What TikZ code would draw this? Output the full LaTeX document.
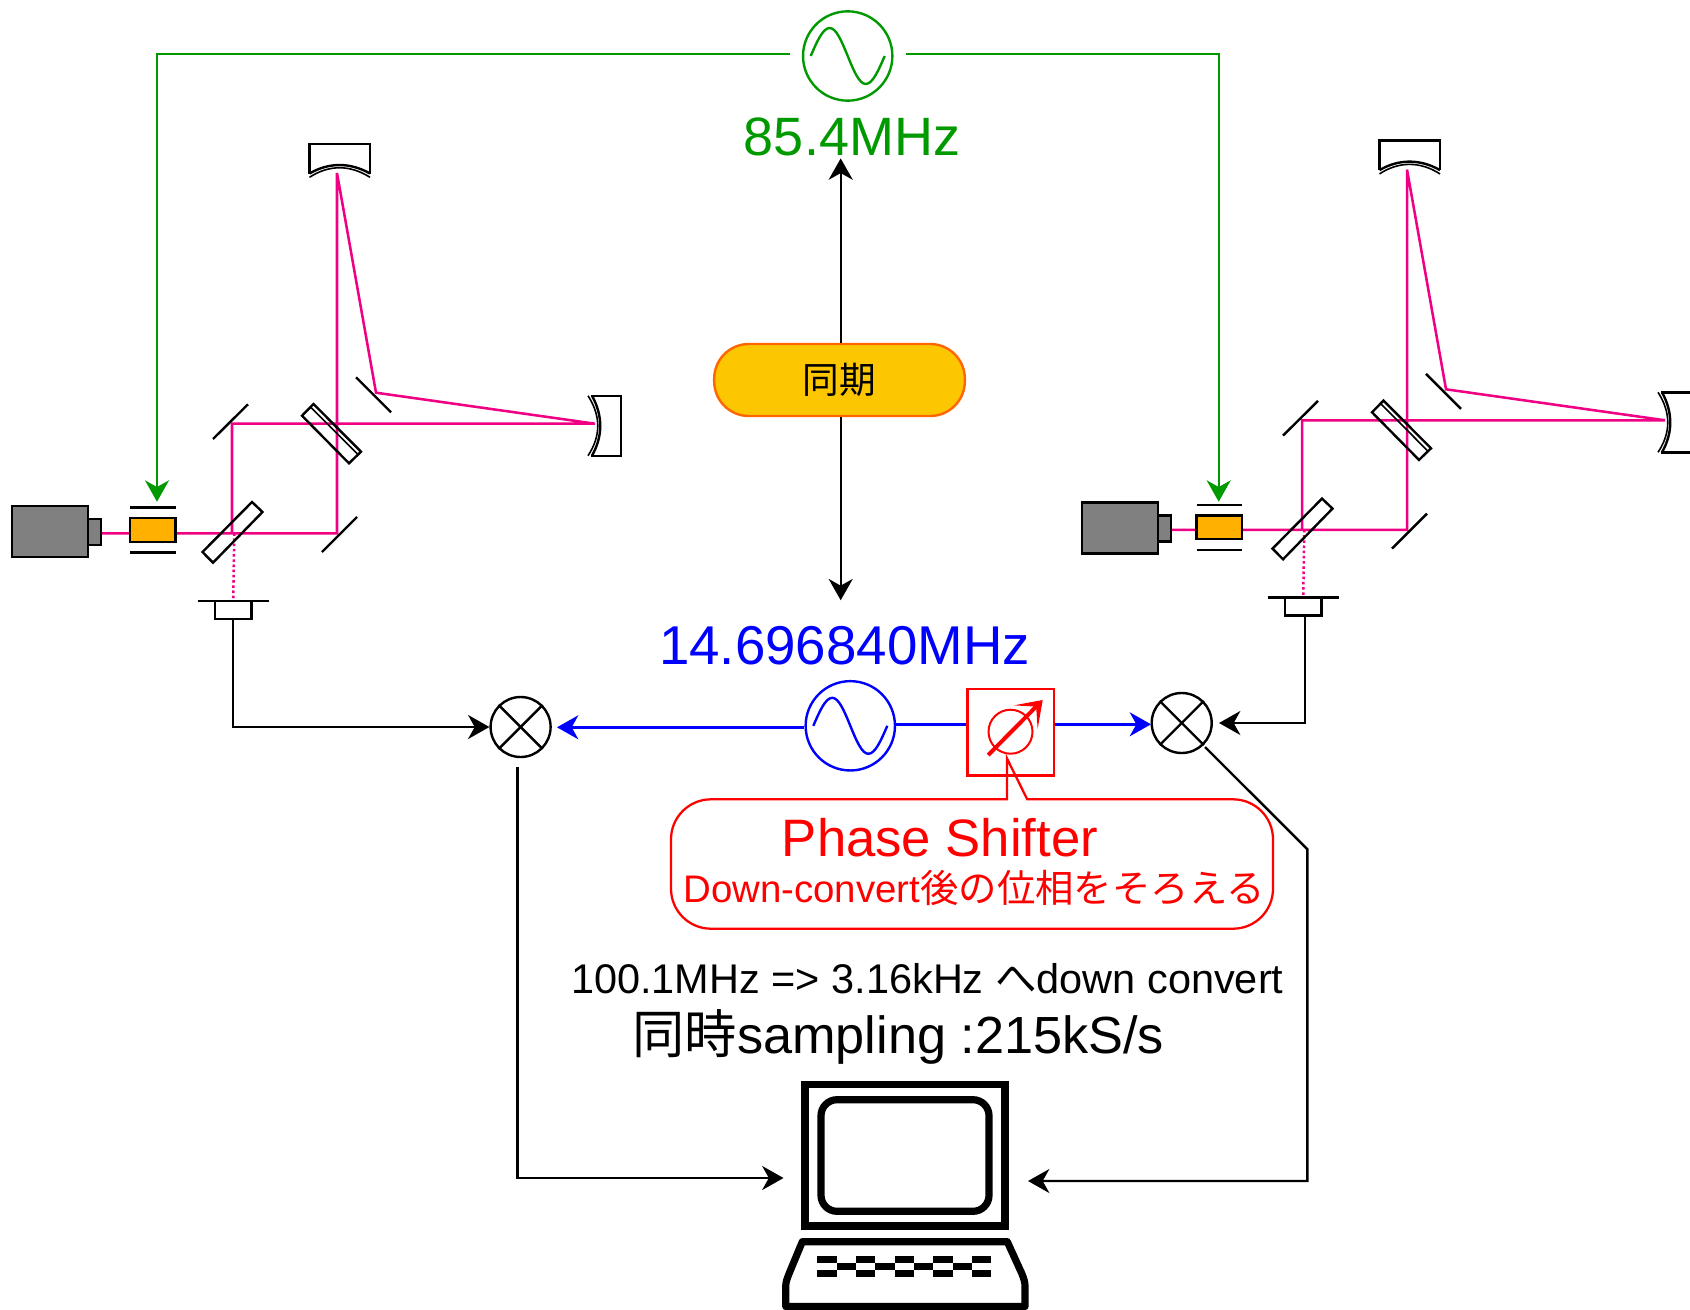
\documentclass[tikz,border=0pt]{standalone}
\usepackage{fontspec}
\setmainfont{Liberation Sans}
\newfontfamily\jpfont{Noto Sans CJK JP}
\usetikzlibrary{arrows.meta,calc,positioning}
\definecolor{beampink}{RGB}{240,0,130}
\definecolor{rfgreen}{RGB}{0,153,0}
\definecolor{eomorange}{RGB}{255,176,0}
\definecolor{laserdark}{RGB}{128,128,128}
\definecolor{pillyellow}{RGB}{252,199,0}
\definecolor{pillrim}{RGB}{255,102,0}
\tikzset{
    tip/.tip={Stealth[length=16pt,width=18pt,inset=5pt]},
    optic/.style={draw=black,line width=1.8pt},
    beam/.style={draw=beampink,line width=1.9pt},
    wire/.style={draw=black,line width=1.8pt},
    rfline/.style={line width=1.8pt},
    osc/.style={circle,draw,line width=1.8pt,minimum size=67pt,inner sep=0pt},
    mixer/.style={circle,draw=black,line width=1.8pt,minimum size=45pt,inner sep=0pt},
    sinewave/.pic={\draw[rfline] (-37,0) sin (-18,-28) cos (0,0) sin (18,28) cos (37,0);},
    eomunit/.pic={
        \draw[optic,fill=eomorange] (130,518) rectangle (175.5,541.7);
        \draw[optic] (130,507.3)--(175.5,507.3);
        \draw[optic] (130,552.3)--(175.5,552.3);
    },
    cavity/.pic={
        \coordinate (-las) at (101,533.3);
        \coordinate (-fold1) at (337,533.3);
        \coordinate (-curve1) at (337,173);
        \coordinate (-fold2) at (376,392.7);
        \coordinate (-curve2) at (595,423.7);
        \coordinate (-fold3) at (232,423.7);
        \coordinate (-fold4) at (232,533.3);
        \coordinate (-dark) at (234.3,533.3);
        \coordinate (-pd) at (233.2,600.7);
        \draw[beam] (-las)--(-fold1)--(-curve1)--(-fold2)--(-curve2)--(-fold3)--(-fold4);
        \draw[beam,dotted] (-dark)--(-pd);
        \draw[optic,fill=laserdark] (12,506) rectangle (88,556.7);
        \draw[optic,fill=laserdark] (88,518.7) rectangle (101,544.7);
        \draw[optic] (356,377.3)--(391,412.3);
        \draw[optic] (213,439)--(248,404.3);
        \draw[optic] (322,552)--(357,517);
        \draw[optic] (313.5,404)--(361,451.7)--(349,463.3)--(302,415.7)--cycle;
        \draw[optic,line width=1.2pt] (310.6,407)--(358,454.6);
        \draw[optic] (252,502)--(262.5,512)--(213,562.7)--(202.5,552)--cycle;
        \draw[optic] (197.5,600.7)--(268.6,600.7);
        \draw[optic] (215,600.7) rectangle (251.4,619);
        \coordinate (-pdout) at (233.2,619);
        \draw[optic] (309.5,173.5)--(309.5,144)--(370,144)--(370,173.5);
        \draw[optic] (309.5,173.5) .. controls (329,162.2) and (350,162.2) .. (370,173.5);
        \draw[optic,line width=1.2pt] (309.5,177.3) .. controls (329,164.6) and (350,164.6) .. (370,177.3);
        \draw[optic] (591,395.7)--(621,395.7)--(621,455.7)--(591,455.7);
        \draw[optic] (592,395.7) .. controls (603,416) and (603,436) .. (592,455.7);
        \draw[optic,line width=1.2pt] (588,395.7) .. controls (601,416) and (601,436) .. (588,455.7);
    }
}
\begin{document}
\begin{tikzpicture}[x=0.75pt,y=-0.75pt]
    \useasboundingbox (0,0) rectangle (1690,1309);
    \pic (L) at (0,0) {cavity};
    \pic (R) at (1070,-3.4) {cavity};
    \pic at (0,0) {eomunit};
    \pic at (1066.6,-2.6) {eomunit};
    \node[osc,draw=rfgreen] (osctop) at (847.7,56) {};
    \pic[rfgreen] at (osctop) {sinewave};
    \node[osc,draw=blue] (oscmix) at (850.3,725.8) {};
    \pic[blue] at (oscmix) {sinewave};
    \node[mixer] (mixl) at (520.6,727) {};
    \node[mixer] (mixr) at (1181.7,723) {};
    \draw[rfline] (mixl.45)--(mixl.225);
    \draw[rfline] (mixl.135)--(mixl.315);
    \draw[rfline] (mixr.45)--(mixr.225);
    \draw[rfline] (mixr.135)--(mixr.315);
    \node[rectangle,draw=red,line width=1.8pt,minimum width=65pt,minimum height=65pt,inner sep=0pt] (shift) at (1010.7,732.3) {};
    \node[circle,draw=red,line width=1.5pt,minimum size=33pt,inner sep=0pt] (dial) at (1010.5,731.7) {};
    \coordinate (dialtail) at (988.2,755);
    \coordinate (dialhead) at (1042.7,700);
    \draw[red,line width=3pt,-{Stealth[length=18pt,width=25pt,inset=11pt]}] (dialtail)--(dialhead);
    \node[rectangle,rounded corners=26pt,draw=pillrim,fill=pillyellow,line width=1.8pt,minimum width=188pt,minimum height=54pt,font=\jpfont\fontsize{27.5}{30}\selectfont] (sync) at (839.5,380) {同期};
    \coordinate (syncup) at (840.7,158.4);
    \coordinate (syncdown) at (840.7,600.3);
    \draw[wire,-tip] (syncup |- sync.north)--(syncup);
    \draw[wire,-tip] (syncup |- sync.south)--(syncdown);
    \coordinate (gl) at (790,54);
    \coordinate (gr) at (906,54);
    \coordinate (gtipl) at (157,501.7);
    \coordinate (gtipr) at (1218.7,501.7);
    \draw[rfgreen,rfline,-tip] (gl)-|(gtipl);
    \draw[rfgreen,rfline,-tip] (gr)-|(gtipr);
    \coordinate (bl) at (557,727.3);
    \coordinate (br) at (1151,724.3);
    \draw[blue,rfline,-tip] (oscmix.west |- bl)--(bl);
    \draw[blue,rfline] (oscmix.east |- br)--(shift.west |- br);
    \draw[blue,rfline,-tip] (shift.east |- br)--(br);
    \draw[wire,-tip] (L-pdout)|-(mixl.west);
    \coordinate (rbend) at (1305,723);
    \coordinate (rstop) at (1219,723);
    \draw[wire,-tip] (R-pdout)--(R-pdout -| rbend)--(rbend)--(rstop);
    \coordinate (mloutl) at (517.3,767.4);
    \coordinate (pcl) at (783.5,1178);
    \draw[wire,-tip] (mloutl)|-(pcl);
    \coordinate (mroutr) at (1205,747);
    \coordinate (mrbend) at (1307.4,849.3);
    \coordinate (pcr) at (1028,1181);
    \draw[wire,-tip] (mroutr)--(mrbend)|-(pcr);
    \draw[red,line width=1.7pt,line cap=round] (760,799.3)--(1006.9,799.3)--(1006.9,758.3)--(1027.2,799.3)[rounded corners=30pt]--(1273,799.3)--(1273,928.7)--(671,928.7)--(671,799.3)--(760,799.3);
    \node[text=rfgreen,font=\fontsize{40.5}{44}\selectfont] (toplabel) at (852,137) {85.4MHz};
    \node[text=blue,font=\fontsize{41}{44}\selectfont] (mixlabel) at (844.5,645.6) {14.696840MHz};
    \node[text=red,font=\fontsize{39.5}{42}\selectfont] (shifttitle) at (940,838) {Phase Shifter};
    \node[text=red,font=\fontsize{28.8}{34}\selectfont] (shiftnote) at (974,888) {Down-convert{\jpfont 後の位相をそろえる}};
    \node[font=\fontsize{31.1}{36}\selectfont] (convnote) at (927.3,978.6) {100.1MHz => 3.16kHz {\jpfont へ}down convert};
    \node[font=\fontsize{39.2}{42}\selectfont] (samplenote) at (898.3,1037) {{\jpfont 同時}sampling :215kS/s};
    \draw[line width=5.8pt] (805,1084.5) rectangle (1005,1226);
    \draw[line width=5.4pt,rounded corners=12pt] (821,1099.7) rectangle (989,1211.3);
    \draw[line width=5.4pt,line join=round] (802.3,1241.7)--(1007.3,1241.7)--(1021.7,1273.3) .. controls (1024,1279) and (1025,1282) .. (1025,1286.7)--(1025,1306.5)--(785.7,1306.5)--(785.7,1286.7) .. controls (785.7,1282) and (787,1279) .. (789.3,1273)--cycle;
    \foreach \k in {0,2,4,6,8} {
        \fill (817.3+19.34*\k,1255.7) rectangle +(19.3,7);
        \fill (817.3+19.34*\k,1270) rectangle +(19.3,7.3);
    }
    \foreach \k in {1,3,5,7} {
        \fill (817.3+19.34*\k,1262.7) rectangle +(19.3,7.3);
    }
\end{tikzpicture}
\end{document}
